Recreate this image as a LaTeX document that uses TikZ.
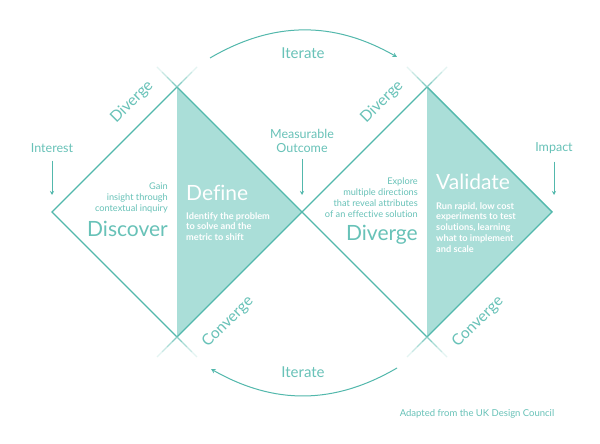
\documentclass[tikz,border=0pt]{standalone}
\usepackage{fontspec}
\setmainfont{Lato}[Ligatures=NoCommon]
\usetikzlibrary{calc,arrows.meta}
\definecolor{ddTeal}{RGB}{82,184,172}
\definecolor{ddFill}{RGB}{170,222,216}
\definecolor{ddText}{RGB}{104,194,184}
\tikzset{
    base/.style={text=ddText, inner sep=0pt, font=\fontsize{12.5}{14}\selectfont},
    edge/.style={draw=ddTeal, line width=1.4pt, line join=miter},
    phase/.style={base, rotate=45, font=\fontsize{15.5}{17}\selectfont},
    heading/.style={base, font=\fontsize{21}{24}\selectfont},
    blurb/.style={base, font=\fontsize{9.2}{10.8}\selectfont},
    inblurb/.style={base, text=white, font=\bfseries\fontsize{9.2}{10.9}\selectfont},
    flow/.style={-{Stealth[length=4pt,width=4pt]}, draw=ddTeal, line width=0.9pt},
    loop/.style={-{Stealth[length=4.5pt,width=4.5pt]}, draw=ddTeal, line width=1pt, bend left=30}
}
\begin{document}
\begin{tikzpicture}[x=1pt, y=1pt]
  \useasboundingbox (0,0) rectangle (600,444);
  \fill[white] (0,0) rectangle (600,444);

  % corners of the double diamond
  \coordinate (L)  at (52,232);
  \coordinate (T1) at (177,357);
  \coordinate (B1) at (177,107);
  \coordinate (C)  at (302,232);
  \coordinate (T2) at (427,357);
  \coordinate (B2) at (427,107);
  \coordinate (R)  at (552,232);

  % shaded halves
  \fill[ddFill] (T1) -- (C) -- (B1) -- cycle;
  \fill[ddFill] (T2) -- (R) -- (B2) -- cycle;

  \draw[edge] (L) -- (T1) -- (C) -- (B1) -- cycle;
  \draw[edge] (C) -- (T2) -- (R) -- (B2) -- cycle;

  % fading crossings at the peaks
  \foreach \v/\sy in {T1/1,T2/1,B1/-1,B2/-1}{
    \foreach \i/\op in {0/70,1/50,2/32,3/16}{
      \draw[ddTeal!\op, line width=1.2pt] ($(\v)+(\i*5,\sy*\i*5)$) -- ($(\v)+(\i*5+5,\sy*\i*5+\sy*5)$);
      \draw[ddTeal!\op, line width=1.2pt] ($(\v)+(-\i*5,\sy*\i*5)$) -- ($(\v)+(-\i*5-5,\sy*\i*5+\sy*5)$);
    }
  }

  % phase labels along the edges
  \node[phase] (divL) at (132,342) {Diverge};
  \node[phase] (divR) at (382,342) {Diverge};
  \node[phase] (conL) at (228,122) {Converge};
  \node[phase] (conR) at (478,122) {Converge};

  % entry and exit markers
  \node[base] (interest) at (52,296) {Interest};
  \node[base, align=center, font=\fontsize{12.5}{14}\selectfont] (outcome) at (302,303) {Measurable\\Outcome};
  \node[base] (impact) at (554,296) {Impact};
  \coordinate (interestTip) at (52,249);
  \coordinate (outcomeTip) at (302,249);
  \coordinate (impactTip) at (554,249);
  \draw[flow] ($(interest.south)+(0,-8)$) -- (interestTip);
  \draw[flow] ($(outcome.south)+(0,-6)$) -- (outcomeTip);
  \draw[flow] ($(impact.south)+(0,-8)$) -- (impactTip);

  % left diamond texts
  \node[blurb, anchor=north east, align=right] (gain) at (168,261) {Gain\\insight through\\contextual inquiry};
  \node[heading, anchor=east] (discover) at (168,215) {Discover};
  \node[heading, text=white, anchor=west] (define) at (186,251) {Define};
  \node[inblurb, anchor=north west, align=left] (identify) at (186,232) {Identify the problem\\to solve and the\\metric to shift};

  % right diamond texts
  \node[blurb, anchor=north east, align=right] (explore) at (418,266) {Explore\\multiple directions\\that reveal attributes\\of an effective solution};
  \node[heading, anchor=east] (diverge) at (418,209) {Diverge};
  \node[heading, text=white, anchor=west] (validate) at (436,262) {Validate};
  \node[inblurb, anchor=north west, align=left] (run) at (436,242) {Run rapid, low cost\\experiments to test\\solutions, learning\\what to implement\\and scale};

  % iteration loops
  \node[base, font=\fontsize{15}{17}\selectfont] (iterTop) at (303,391) {Iterate};
  \node[base, font=\fontsize{15}{17}\selectfont] (iterBot) at (303,72) {Iterate};
  \coordinate (topStart) at (210,386);
  \coordinate (topEnd) at (397,387);
  \coordinate (botStart) at (397,76);
  \coordinate (botEnd) at (211,75);
  \draw[loop] (topStart) to (topEnd);
  \draw[loop] (botStart) to (botEnd);

  \node[base, font=\fontsize{9.5}{11}\selectfont] (credit) at (477,30) {Adapted from the UK Design Council};
\end{tikzpicture}
\end{document}
